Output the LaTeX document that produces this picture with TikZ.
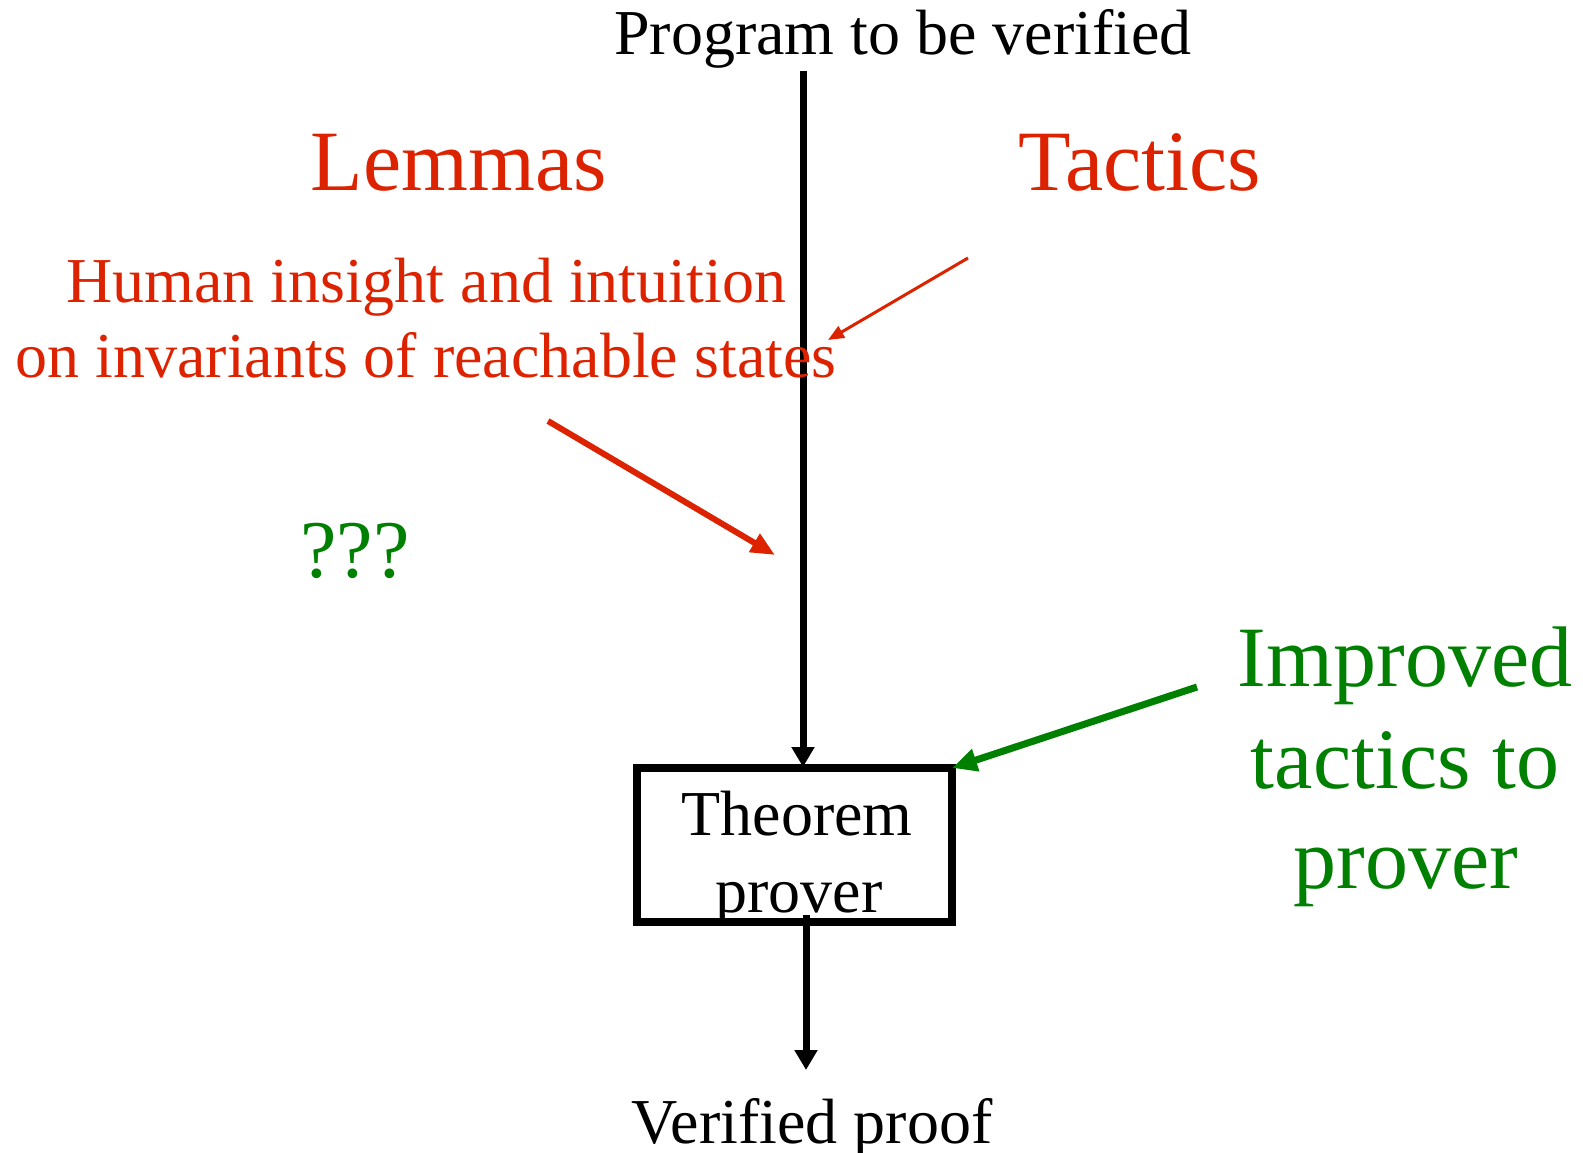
\documentclass[tikz,border=0pt]{standalone}
\usepackage{fontspec}
\setmainfont{Liberation Serif}
\usetikzlibrary{arrows.meta}
\definecolor{myred}{RGB}{221,34,0}
\definecolor{mygreen}{RGB}{0,128,0}
\begin{document}
\begin{tikzpicture}[x=1pt,y=-1pt,
  txt/.style={inner sep=0pt,anchor=base,align=center},
  small/.style={font=\fontsize{64}{77}\selectfont},
  big/.style={font=\fontsize{86}{101}\selectfont},
  blackarrow/.style={line width=7pt,-{Triangle[length=20pt,width=22pt]}},
  redthin/.style={myred,line width=3pt,-{Triangle[length=16pt,width=13pt]}},
  redthick/.style={myred,line width=6pt,-{Triangle[length=24pt,width=20pt]}},
  greenarrow/.style={mygreen,line width=7pt,-{Triangle[length=25pt,width=22pt]}}]
\useasboundingbox (0,0) rectangle (1583,1153);
% box
\node[draw,line width=8pt,minimum width=315pt,minimum height=154pt,inner sep=0pt] (box) at (794.5,845) {};
% free ends
\coordinate (topstart) at (803,71);
\coordinate (boxtop) at (803,767);
\coordinate (botstart) at (806,915);
\coordinate (botend) at (806,1070);
\coordinate (tacstart) at (968,258);
\coordinate (tacend) at (828,340);
\coordinate (lemstart) at (548,421);
\coordinate (lemend) at (775,555);
\coordinate (grnstart) at (1197,687);
\coordinate (grnend) at (952,768);
% arrows
\draw[blackarrow] (topstart) -- (boxtop);
\draw[blackarrow] (botstart) -- (botend);
\draw[redthin] (tacstart) -- (tacend);
\draw[redthick] (lemstart) -- (lemend);
\draw[greenarrow] (grnstart) -- (grnend);
% texts
\node[txt,small] (prog) at (903,55) {Program to be verified};
\node[txt,big,text=myred] (lemmas) at (459,190) {Lemmas};
\node[txt,big,text=myred] (tactics) at (1140,190) {Tactics};
\node[txt,small,text=myred] (human1) at (426,302) {Human insight and intuition};
\node[txt,small,text=myred] (human2) at (426,377) {on invariants of reachable states};
\node[txt,font=\fontsize{82}{96}\selectfont,text=mygreen] (qqq) at (355,577) {???};
\node[txt,big,text=mygreen] (imp1) at (1405,686) {Improved};
\node[txt,big,text=mygreen] (imp2) at (1405,788) {tactics to};
\node[txt,big,text=mygreen] (imp3) at (1406,888) {prover};
\node[txt,small] (thm1) at (797,835) {Theorem};
\node[txt,small] (thm2) at (799,912) {prover};
\node[txt,small] (verified) at (812,1143) {Verified proof};
\end{tikzpicture}
\end{document}
